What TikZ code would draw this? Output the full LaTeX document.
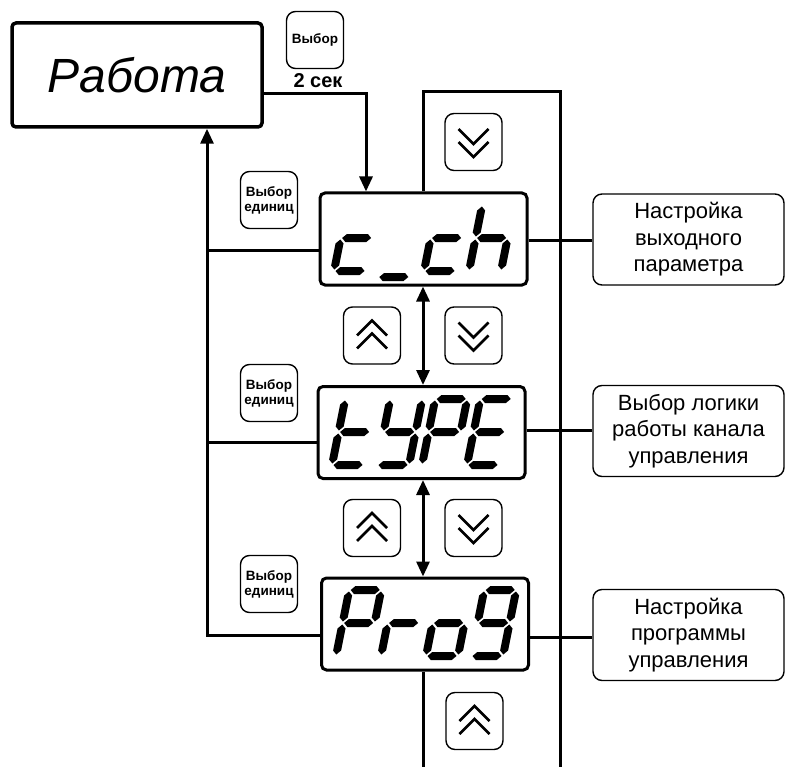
\documentclass[tikz,border=0pt]{standalone}
\usepackage{fontspec}
\setmainfont{Liberation Sans}
\usetikzlibrary{arrows.meta}
\newcommand\SegH[3]{\fill ({#1},{#3}) -- ({#1+4},{#3+4}) -- ({#2-4},{#3+4}) -- ({#2},{#3}) -- ({#2-4},{#3-4}) -- ({#1+4},{#3-4}) -- cycle;}
\newcommand\SegV[3]{\fill ({#1},{#2}) -- ({#1+4},{#2+4}) -- ({#1+4},{#3-4}) -- ({#1},{#3}) -- ({#1-4},{#3-4}) -- ({#1-4},{#2+4}) -- cycle;}
\def\sgA{\SegH{1.5}{30.5}{66}}
\def\sgB{\SegV{32}{34.5}{64.5}}
\def\sgC{\SegV{32}{1.5}{31.5}}
\def\sgD{\SegH{1.5}{30.5}{0}}
\def\sgE{\SegV{0}{1.5}{31.5}}
\def\sgF{\SegV{0}{34.5}{64.5}}
\def\sgG{\SegH{1.5}{30.5}{33}}
\def\sgU{\SegH{1.5}{30.5}{-6}}
\newcommand\Digit[3]{\begin{scope}[shift={(#1,#2)},xslant=0.2,yscale=-1]\foreach \s in {#3}{\csname sg\s\endcsname}\end{scope}}
\begin{document}
\begin{tikzpicture}[x=1pt,y=-1pt,
  line/.style={line width=3pt},
  tip/.style={-{Triangle[width=13pt,length=15pt]}},
  disp/.style={draw,line width=3pt,rounded corners=5,minimum width=207pt,minimum height=92pt,inner sep=0pt},
  btn/.style={draw,line width=1.4pt,rounded corners=9,minimum width=57pt,minimum height=57pt,inner sep=0pt,align=center,font=\fontsize{13.5}{15}\selectfont\bfseries},
  chev/.style={line width=2.6pt,line join=miter},
  desc/.style={draw,line width=1.4pt,rounded corners=9,minimum width=191pt,minimum height=91pt,inner sep=0pt,align=center,font=\fontsize{22}{26.5}\selectfont}]
\useasboundingbox (0,0) rectangle (786,767);
% main box
\node[draw,line width=3.5pt,rounded corners=4,minimum width=250pt,minimum height=104pt,inner sep=0pt,font=\fontsize{48}{48}\selectfont\itshape] (rab) at (137,75) {Работа};
\node[btn] (bsel) at (315,40) {Выбор};
\node[font=\fontsize{20}{20}\selectfont\bfseries] (sec) at (318,81) {2 сек};
% displays
\node[disp] (d1) at (423.5,239) {};
\node[disp] (d2) at (421.5,432.5) {};
\node[disp] (d3) at (425,624) {};
% digits
\Digit{334}{271}{G,E,D}
\Digit{379}{271}{U}
\Digit{424}{271}{G,E,D}
\Digit{469}{271}{F,E,G,C}
\Digit{332}{465}{F,E,G,D}
\Digit{377}{465}{F,B,G,C,D}
\Digit{422}{465}{A,B,F,G,E}
\Digit{467}{465}{A,F,G,E,D}
\Digit{336}{656}{A,B,F,G,E}
\Digit{381}{656}{G,E}
\Digit{426}{656}{G,C,D,E}
\Digit{471}{656}{A,B,F,G,C,D}
% left buttons
\node[btn] (s1) at (269,200) {Выбор\\единиц};
\node[btn] (s2) at (269,393) {Выбор\\единиц};
\node[btn] (s3) at (269,584) {Выбор\\единиц};
% chevron buttons
\node[btn] (dn0) at (473.5,142) {};
\node[btn] (up1) at (372,335.5) {};
\node[btn] (dn1) at (473.5,335.5) {};
\node[btn] (up2) at (372,528) {};
\node[btn] (dn2) at (473.5,528) {};
\node[btn] (up3) at (474.5,721) {};
\foreach \b in {up1,up2,up3}{
  \draw[chev] ([shift={(-15,0)}]\b.center) -- ([shift={(0,-15)}]\b.center) -- ([shift={(15,0)}]\b.center);
  \draw[chev] ([shift={(-15,13)}]\b.center) -- ([shift={(0,-2)}]\b.center) -- ([shift={(15,13)}]\b.center);}
\foreach \b in {dn0,dn1,dn2}{
  \draw[chev] ([shift={(-15,-13)}]\b.center) -- ([shift={(0,2)}]\b.center) -- ([shift={(15,-13)}]\b.center);
  \draw[chev] ([shift={(-15,0)}]\b.center) -- ([shift={(0,15)}]\b.center) -- ([shift={(15,0)}]\b.center);}
% description boxes
\node[desc] (t1) at (688.5,239.5) {Настройка\\выходного\\параметра};
\node[desc] (t2) at (688.5,431) {Выбор логики\\работы канала\\управления};
\node[desc] (t3) at (688.5,635) {Настройка\\программы\\управления};
% coordinates
\coordinate (c1) at (366,94);
\coordinate (L1) at (207,250);
\coordinate (L2) at (207,442);
\coordinate (L3) at (207,635);
\coordinate (R1) at (560,240);
\coordinate (R2) at (560,430);
\coordinate (R3) at (560,637);
\coordinate (T1) at (423,92);
\coordinate (T2) at (560,92);
\coordinate (B1) at (423,767);
\coordinate (B2) at (560,767);
% connectors
\draw[line,tip] (rab.east |- c1) -- (c1) -- (d1.north -| c1);
\draw[line,tip] (d3.west |- L3) -- (L3) -- (rab.south -| L3);
\draw[line] (d1.west |- L1) -- (L1);
\draw[line] (d2.west |- L2) -- (L2);
\draw[line] (d1.north -| T1) -- (T1) -- (T2) -- (B2);
\draw[line] (d3.south -| B1) -- (B1);
\draw[line,{Triangle[width=13pt,length=15pt]}-{Triangle[width=13pt,length=15pt]}] (d1.south -| T1) -- (d2.north -| T1);
\draw[line,{Triangle[width=13pt,length=15pt]}-{Triangle[width=13pt,length=15pt]}] (d2.south -| T1) -- (d3.north -| T1);
\draw[line] (d1.east |- R1) -- (t1.west |- R1);
\draw[line] (d2.east |- R2) -- (t2.west |- R2);
\draw[line] (d3.east |- R3) -- (t3.west |- R3);
\end{tikzpicture}
\end{document}
